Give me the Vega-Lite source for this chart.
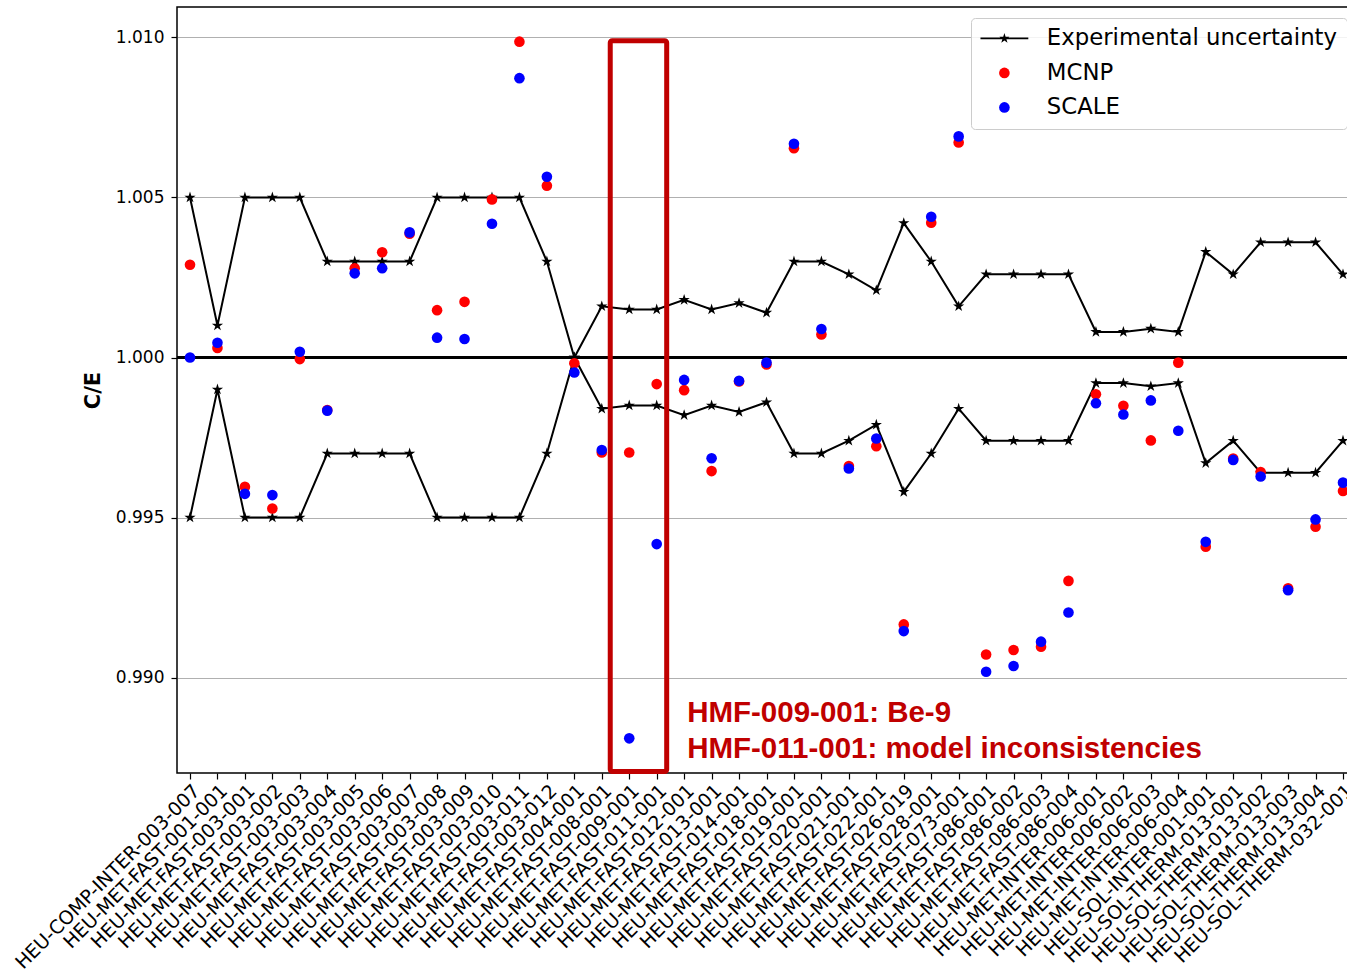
{
  "$schema": "https://vega.github.io/schema/vega-lite/v6.json",
  "width": 1179,
  "height": 766,
  "autosize": {"type": "none"},
  "padding": {"left": 177, "top": 7, "right": -9, "bottom": 201},
  "background": "white",
  "config": {
    "view": {"stroke": "black", "strokeWidth": 1.5},
    "axis": {
      "labelFont": "DejaVu Sans",
      "labelFontSize": 17,
      "labelColor": "black",
      "tickColor": "black",
      "tickSize": 6,
      "tickWidth": 1.2,
      "domain": false,
      "grid": false,
      "titleFont": "DejaVu Sans",
      "titleColor": "black"
    },
    "legend": {
      "labelFont": "DejaVu Sans",
      "labelFontSize": 22.8,
      "labelColor": "black",
      "labelLimit": 500
    }
  },
  "data": {
    "values": [
      {"benchmark": "HEU-COMP-INTER-003-007", "upper": 1.005, "lower": 0.995, "MCNP": 1.0029, "SCALE": 1.0000},
      {"benchmark": "HEU-MET-FAST-001-001", "upper": 1.001, "lower": 0.999, "MCNP": 1.0003, "SCALE": 1.00046},
      {"benchmark": "HEU-MET-FAST-003-001", "upper": 1.005, "lower": 0.995, "MCNP": 0.99596, "SCALE": 0.99574},
      {"benchmark": "HEU-MET-FAST-003-002", "upper": 1.005, "lower": 0.995, "MCNP": 0.99528, "SCALE": 0.9957},
      {"benchmark": "HEU-MET-FAST-003-003", "upper": 1.005, "lower": 0.995, "MCNP": 0.99995, "SCALE": 1.00018},
      {"benchmark": "HEU-MET-FAST-003-004", "upper": 1.003, "lower": 0.997, "MCNP": 0.99836, "SCALE": 0.99834},
      {"benchmark": "HEU-MET-FAST-003-005", "upper": 1.003, "lower": 0.997, "MCNP": 1.00279, "SCALE": 1.00263},
      {"benchmark": "HEU-MET-FAST-003-006", "upper": 1.003, "lower": 0.997, "MCNP": 1.00329, "SCALE": 1.00279},
      {"benchmark": "HEU-MET-FAST-003-007", "upper": 1.003, "lower": 0.997, "MCNP": 1.00387, "SCALE": 1.00391},
      {"benchmark": "HEU-MET-FAST-003-008", "upper": 1.005, "lower": 0.995, "MCNP": 1.00148, "SCALE": 1.00062},
      {"benchmark": "HEU-MET-FAST-003-009", "upper": 1.005, "lower": 0.995, "MCNP": 1.00174, "SCALE": 1.00058},
      {"benchmark": "HEU-MET-FAST-003-010", "upper": 1.005, "lower": 0.995, "MCNP": 1.00494, "SCALE": 1.00418},
      {"benchmark": "HEU-MET-FAST-003-011", "upper": 1.005, "lower": 0.995, "MCNP": 1.00987, "SCALE": 1.00873},
      {"benchmark": "HEU-MET-FAST-003-012", "upper": 1.003, "lower": 0.997, "MCNP": 1.00537, "SCALE": 1.00565},
      {"benchmark": "HEU-MET-FAST-004-001", "upper": 1.0, "lower": 1.0, "MCNP": 0.99982, "SCALE": 0.99953},
      {"benchmark": "HEU-MET-FAST-008-001", "upper": 1.0016, "lower": 0.9984, "MCNP": 0.99703, "SCALE": 0.99711},
      {"benchmark": "HEU-MET-FAST-009-001", "upper": 1.0015, "lower": 0.9985, "MCNP": 0.99703, "SCALE": 0.9881},
      {"benchmark": "HEU-MET-FAST-011-001", "upper": 1.0015, "lower": 0.9985, "MCNP": 0.99917, "SCALE": 0.99417},
      {"benchmark": "HEU-MET-FAST-012-001", "upper": 1.0018, "lower": 0.9982, "MCNP": 0.99898, "SCALE": 0.9993},
      {"benchmark": "HEU-MET-FAST-013-001", "upper": 1.0015, "lower": 0.9985, "MCNP": 0.99645, "SCALE": 0.99685},
      {"benchmark": "HEU-MET-FAST-014-001", "upper": 1.0017, "lower": 0.9983, "MCNP": 0.99925, "SCALE": 0.99927},
      {"benchmark": "HEU-MET-FAST-018-001", "upper": 1.0014, "lower": 0.9986, "MCNP": 0.99978, "SCALE": 0.99984},
      {"benchmark": "HEU-MET-FAST-019-001", "upper": 1.003, "lower": 0.997, "MCNP": 1.00654, "SCALE": 1.00668},
      {"benchmark": "HEU-MET-FAST-020-001", "upper": 1.003, "lower": 0.997, "MCNP": 1.00072, "SCALE": 1.00089},
      {"benchmark": "HEU-MET-FAST-021-001", "upper": 1.0026, "lower": 0.9974, "MCNP": 0.99661, "SCALE": 0.99653},
      {"benchmark": "HEU-MET-FAST-022-001", "upper": 1.0021, "lower": 0.9979, "MCNP": 0.99723, "SCALE": 0.99747},
      {"benchmark": "HEU-MET-FAST-026-019", "upper": 1.0042, "lower": 0.9958, "MCNP": 0.99166, "SCALE": 0.99145},
      {"benchmark": "HEU-MET-FAST-028-001", "upper": 1.003, "lower": 0.997, "MCNP": 1.00421, "SCALE": 1.0044},
      {"benchmark": "HEU-MET-FAST-073-001", "upper": 1.0016, "lower": 0.9984, "MCNP": 1.00672, "SCALE": 1.00691},
      {"benchmark": "HEU-MET-FAST-086-001", "upper": 1.0026, "lower": 0.9974, "MCNP": 0.99072, "SCALE": 0.99018},
      {"benchmark": "HEU-MET-FAST-086-002", "upper": 1.0026, "lower": 0.9974, "MCNP": 0.99086, "SCALE": 0.99036},
      {"benchmark": "HEU-MET-FAST-086-003", "upper": 1.0026, "lower": 0.9974, "MCNP": 0.99096, "SCALE": 0.99112},
      {"benchmark": "HEU-MET-FAST-086-004", "upper": 1.0026, "lower": 0.9974, "MCNP": 0.99302, "SCALE": 0.99203},
      {"benchmark": "HEU-MET-INTER-006-001", "upper": 1.0008, "lower": 0.9992, "MCNP": 0.99885, "SCALE": 0.99857},
      {"benchmark": "HEU-MET-INTER-006-002", "upper": 1.0008, "lower": 0.9992, "MCNP": 0.99849, "SCALE": 0.99822},
      {"benchmark": "HEU-MET-INTER-006-003", "upper": 1.0009, "lower": 0.9991, "MCNP": 0.99741, "SCALE": 0.99866},
      {"benchmark": "HEU-MET-INTER-006-004", "upper": 1.0008, "lower": 0.9992, "MCNP": 0.99984, "SCALE": 0.99771},
      {"benchmark": "HEU-SOL-INTER-001-001", "upper": 1.0033, "lower": 0.9967, "MCNP": 0.99409, "SCALE": 0.99424},
      {"benchmark": "HEU-SOL-THERM-013-001", "upper": 1.0026, "lower": 0.9974, "MCNP": 0.99684, "SCALE": 0.9968},
      {"benchmark": "HEU-SOL-THERM-013-002", "upper": 1.0036, "lower": 0.9964, "MCNP": 0.99642, "SCALE": 0.99628},
      {"benchmark": "HEU-SOL-THERM-013-003", "upper": 1.0036, "lower": 0.9964, "MCNP": 0.99279, "SCALE": 0.99273},
      {"benchmark": "HEU-SOL-THERM-013-004", "upper": 1.0036, "lower": 0.9964, "MCNP": 0.99471, "SCALE": 0.99494},
      {"benchmark": "HEU-SOL-THERM-032-001", "upper": 1.0026, "lower": 0.9974, "MCNP": 0.99583, "SCALE": 0.99609}
    ]
  },
  "layer": [
    {
      "mark": {"type": "rule", "color": "black", "strokeWidth": 2},
      "encoding": {
        "y": {"datum": 1.0, "type": "quantitative"}
      }
    },
    {
      "transform": [{"fold": ["upper", "lower"], "as": ["bound", "v"]}],
      "mark": {"type": "line", "color": "black", "strokeWidth": 2},
      "encoding": {
        "x": {
          "field": "benchmark", "type": "nominal", "title": null,
          "scale": {"type": "point", "padding": 0.4736},
          "axis": {"labelAngle": -45, "labelAlign": "right", "labelBaseline": "top", "labelPadding": 2, "labelLimit": 400, "labelFontSize": 19}
        },
        "y": {
          "field": "v", "type": "quantitative", "title": "C/E",
          "scale": {"domain": [0.987016, 1.010953], "nice": false, "zero": false},
          "axis": {
            "values": [0.99, 0.995, 1.0, 1.005, 1.01], "format": ".3f",
            "grid": true, "gridColor": "#b0b0b0", "gridWidth": 1.2,
            "labelPadding": 7, "titleFontSize": 21, "titleFontWeight": "bold", "titlePadding": 12
          }
        },
        "detail": {"field": "bound"}
      }
    },
    {
      "transform": [{"fold": ["upper", "lower"], "as": ["bound", "v"]}],
      "mark": {"type": "point", "shape": "M0,-1L0.2245,-0.309L0.951,-0.309L0.363,0.118L0.588,0.809L0,0.382L-0.588,0.809L-0.363,0.118L-0.951,-0.309L-0.2245,-0.309Z", "filled": true, "color": "black", "size": 140, "opacity": 1},
      "encoding": {
        "x": {"field": "benchmark", "type": "nominal"},
        "y": {"field": "v", "type": "quantitative"}
      }
    },
    {
      "transform": [{"fold": ["MCNP", "SCALE"], "as": ["series", "v"]}],
      "mark": {"type": "point", "filled": true, "size": 113, "opacity": 1},
      "encoding": {
        "x": {"field": "benchmark", "type": "nominal"},
        "y": {"field": "v", "type": "quantitative"},
        "color": {
          "field": "series", "type": "nominal", "title": null,
          "scale": {"domain": ["Experimental uncertainty", "MCNP", "SCALE"], "range": ["black", "red", "blue"]},
          "legend": {
            "orient": "none", "legendX": 794, "legendY": 11,
            "padding": 9, "symbolOffset": 13, "labelOffset": 31, "rowPadding": 10.5,
            "symbolSize": 113, "symbolStrokeWidth": 0, "symbolOpacity": 1,
            "strokeColor": "#cccccc", "fillColor": "rgba(255,255,255,0.85)", "cornerRadius": 4
          }
        },
        "shape": {
          "field": "series", "type": "nominal", "title": null,
          "scale": {
            "domain": ["Experimental uncertainty", "MCNP", "SCALE"],
            "range": ["M-4.5,-0.17L4.5,-0.17L4.5,0.17L-4.5,0.17Z M0,-1L0.2245,-0.309L0.951,-0.309L0.363,0.118L0.588,0.809L0,0.382L-0.588,0.809L-0.363,0.118L-0.951,-0.309L-0.2245,-0.309Z", "circle", "circle"]
          }
        }
      }
    },
    {
      "transform": [
        {"window": [{"op": "lead", "field": "benchmark", "as": "next"}]},
        {"filter": {"field": "benchmark", "equal": "HEU-MET-FAST-009-001"}}
      ],
      "mark": {"type": "rect", "fill": "white", "fillOpacity": 0, "stroke": "#c00000", "strokeWidth": 5, "cornerRadius": 2, "xOffset": -19, "x2Offset": 10},
      "encoding": {
        "x": {"field": "benchmark", "type": "nominal"},
        "x2": {"field": "next"},
        "y": {"datum": 0.98706, "type": "quantitative"},
        "y2": {"datum": 1.0099}
      }
    },
    {
      "transform": [{"filter": {"field": "benchmark", "equal": "HEU-MET-FAST-012-001"}}],
      "mark": {"type": "text", "font": "Liberation Sans", "fontWeight": "bold", "fontSize": 29.5, "color": "#c00000", "align": "left", "baseline": "alphabetic", "dx": 3, "lineHeight": 36},
      "encoding": {
        "x": {"field": "benchmark", "type": "nominal"},
        "y": {"datum": 0.98862, "type": "quantitative"},
        "text": {"value": ["HMF-009-001: Be-9", "HMF-011-001: model inconsistencies"]}
      }
    }
  ]
}
